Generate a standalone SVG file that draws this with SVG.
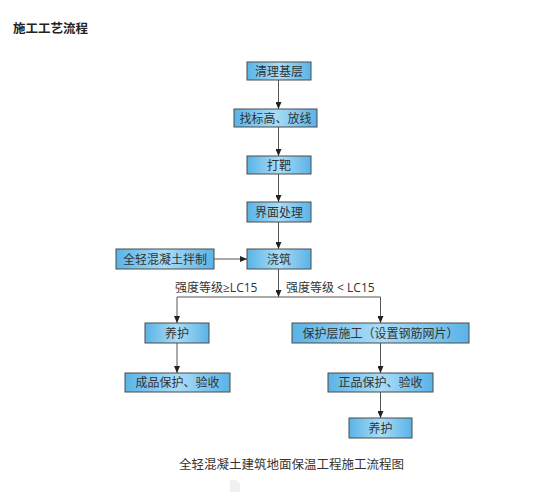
<svg xmlns="http://www.w3.org/2000/svg" width="559" height="492" viewBox="0 0 559 492">
<style>
.box{fill:url(#g);stroke:#4a4a4a;stroke-width:1}
.t{font-family:"Open Sans","Noto Sans CJK SC",sans-serif;font-size:12px;fill:#333;text-anchor:middle;dominant-baseline:central}
.c{fill:none;stroke:#555;stroke-width:1;marker-end:url(#a)}
.l{fill:none;stroke:#555;stroke-width:1}
.lab{font-family:"Open Sans","Noto Sans CJK SC",sans-serif;font-size:12px;fill:#333}
</style>
<defs>
<linearGradient id="g" x1="0" y1="0" x2="1" y2="0">
<stop offset="0" stop-color="#5ab3e6"/>
<stop offset="0.5" stop-color="#a9dcf7"/>
<stop offset="1" stop-color="#5ab3e6"/>
</linearGradient>
<marker id="a" markerWidth="7" markerHeight="6" refX="7" refY="3" orient="auto" markerUnits="userSpaceOnUse">
<path d="M0,0 L7,3 L0,6 Z" fill="#222"/>
</marker>
</defs>
<rect width="559" height="492" fill="#fff"/>
<text x="13" y="27" font-family="'Noto Sans CJK SC',sans-serif" font-size="12.5" font-weight="bold" fill="#222" dominant-baseline="central">施工工艺流程</text>
<g id="connectors">
<line class="c" x1="278.5" y1="80" x2="278.5" y2="109"/>
<line class="c" x1="278.5" y1="127" x2="278.5" y2="156"/>
<line class="c" x1="278.5" y1="174" x2="278.5" y2="202"/>
<line class="c" x1="278.5" y1="222" x2="278.5" y2="249"/>
<line class="c" x1="214" y1="259" x2="247" y2="259"/>
<line class="c" x1="278.5" y1="269" x2="278.5" y2="297"/>
<polyline class="l" points="177,297 380.5,297"/>
<line class="c" x1="177" y1="297" x2="177" y2="323"/>
<line class="c" x1="380.5" y1="297" x2="380.5" y2="323"/>
<line class="c" x1="177" y1="343" x2="177" y2="373"/>
<line class="c" x1="380.5" y1="343" x2="380.5" y2="373"/>
<line class="c" x1="380.5" y1="392" x2="380.5" y2="418"/>
<text class="lab" x="175" y="292">强度等级≥LC15</text>
<text class="lab" x="286" y="292">强度等级 &lt; LC15</text>
</g>
<g id="n1"><rect class="box" x="247" y="62" width="64" height="18"/><text class="t" x="279" y="71">清理基层</text></g>
<g id="n2"><rect class="box" x="234" y="109" width="83" height="18"/><text class="t" x="275.5" y="118">找标高、放线</text></g>
<g id="n3"><rect class="box" x="247" y="156" width="64" height="18"/><text class="t" x="279" y="165">打靶</text></g>
<g id="n4"><rect class="box" x="247" y="202" width="64" height="20"/><text class="t" x="279" y="212">界面处理</text></g>
<g id="n5"><rect class="box" x="247" y="249" width="64" height="20"/><text class="t" x="279" y="259">浇筑</text></g>
<g id="n6"><rect class="box" x="116" y="249" width="98" height="20"/><text class="t" x="165" y="259">全轻混凝土拌制</text></g>
<g id="n7"><rect class="box" x="145" y="323" width="64" height="20"/><text class="t" x="177" y="333">养护</text></g>
<g id="n8"><rect class="box" x="292" y="323" width="177" height="20"/><text class="t" x="380.5" y="333">保护层施工（设置钢筋网片）</text></g>
<g id="n9"><rect class="box" x="125" y="373" width="105" height="19"/><text class="t" x="177.5" y="382.5">成品保护、验收</text></g>
<g id="n10"><rect class="box" x="328" y="373" width="105" height="19"/><text class="t" x="380.5" y="382.5">正品保护、验收</text></g>
<g id="n11"><rect class="box" x="349" y="418" width="63" height="20"/><text class="t" x="380.5" y="428">养护</text></g>
<text x="291.5" y="463" font-family="'Noto Sans CJK SC',sans-serif" font-size="12.5" fill="#333" text-anchor="middle" dominant-baseline="central">全轻混凝土建筑地面保温工程施工流程图</text>
<path d="M230,480 L236,480 L240,484 L240,492 L230,492 Z" fill="#f0f0f0"/>
</svg>
